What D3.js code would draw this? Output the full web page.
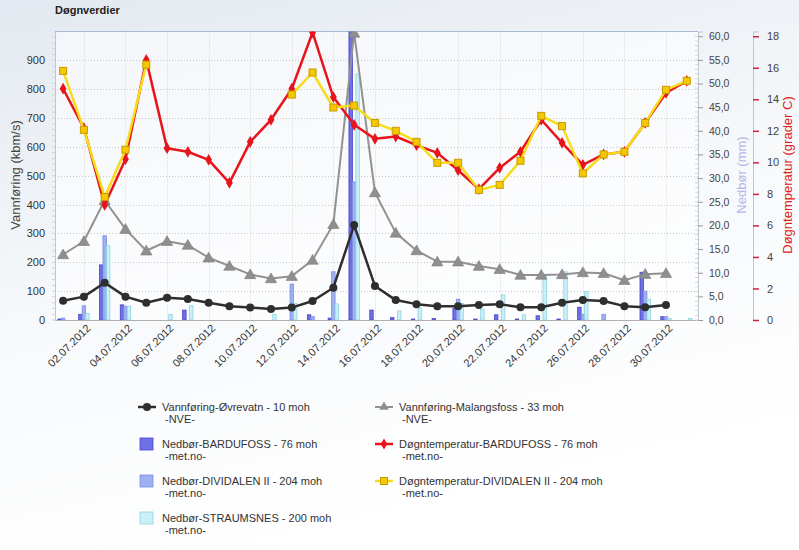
<!DOCTYPE html>
<html>
<head>
<meta charset="utf-8">
<script src="https://cdn.jsdelivr.net/npm/d3@7/dist/d3.min.js"></script>
<style>
html,body{margin:0;padding:0;background:#fff;}
svg{display:block;font-family:"Liberation Sans",Arial,sans-serif;}
</style>
</head>
<body>
<svg id="chart" width="799" height="550"></svg>
<script>
// ---- data ----
const dates = ["01.07.2012","02.07.2012","03.07.2012","04.07.2012","05.07.2012","06.07.2012","07.07.2012","08.07.2012","09.07.2012","10.07.2012","11.07.2012","12.07.2012","13.07.2012","14.07.2012","15.07.2012","16.07.2012","17.07.2012","18.07.2012","19.07.2012","20.07.2012","21.07.2012","22.07.2012","23.07.2012","24.07.2012","25.07.2012","26.07.2012","27.07.2012","28.07.2012","29.07.2012","30.07.2012","31.07.2012"];
const vannOvrevatn = [67,81,129,81,60,77,73,60,48,43,38,43,66,112,329,118,69,55,48,48,52,55,44,44,60,69,66,48,44,52,null];
const vannMalangsfoss = [227,273,415,315,240,273,260,216,187,158,144,152,208,332,995,442,302,241,202,202,187,176,156,156,158,165,162,138,159,162,null];
const nedborBardufoss = [0.2,1.2,11.65,3.2,0,0,2.1,0,0,0,0,0,1.1,0.4,62,2.1,0.5,0.2,0.3,2.5,0.2,1.1,0.2,0.9,0.2,2.7,0,0,10.1,0.7,0];
const nedborDividalen = [0.4,3.0,17.8,2.9,0,0,0,0,0,0,0,7.6,0.7,10.2,29.2,0,0,0,0,4.4,0,0,0,0,0,1.2,1.2,0,6.1,0.7,0];
const nedborStraumsnes = [0,1.4,15.7,2.9,0,1.2,3.0,0,0,0,1.2,3.5,0,3.4,52,0,1.9,2.5,0,3.5,2.3,5.3,1.1,9.5,10.2,6.0,0,0,4.4,0.3,0.3];
const tempBardufoss = [14.67,12.17,7.3,10.2,16.5,10.9,10.67,10.16,8.7,11.3,12.7,14.67,18.24,14.14,12.38,11.49,11.64,11.09,10.6,9.5,8.3,9.65,10.67,12.7,11.24,9.84,10.5,10.67,12.5,14.4,15.17];
const tempDividalen = [15.8,12.06,7.8,10.8,16.2,null,null,null,null,null,null,14.3,15.7,13.48,13.6,12.5,12.0,11.3,9.97,9.97,8.25,8.57,10.1,12.95,12.3,9.3,10.5,10.67,12.5,14.6,15.17];
const leftTicks = [0,100,200,300,400,500,600,700,800,900];
const rainTicks = [0,5,10,15,20,25,30,35,40,45,50,55,60];
const tempTicks = [0,2,4,6,8,10,12,14,16,18];

// ---- layout ----
const svg = d3.select("#chart");
const L = 55, R = 698, T = 31.5, B = 320;
const defs = svg.append("defs");
const bg = defs.append("linearGradient").attr("id","bg").attr("x1","0").attr("y1","0").attr("x2","0.35").attr("y2","1");
bg.append("stop").attr("offset","0").attr("stop-color","#e3e9f0");
bg.append("stop").attr("offset","0.55").attr("stop-color","#f7f9fb");
bg.append("stop").attr("offset","1").attr("stop-color","#ffffff");
svg.append("rect").attr("width",799).attr("height",550).attr("fill","url(#bg)");
defs.append("clipPath").attr("id","clip").append("rect").attr("x",L).attr("y",T).attr("width",R-L).attr("height",B-T);
svg.append("rect").attr("x",L).attr("y",T).attr("width",R-L).attr("height",B-T).attr("fill","#fff").attr("opacity",0.55);

const dayIdx = dates.map((d,i)=>i+1);
const x = d3.scaleLinear().domain([0.61,31.54]).range([L,R]);
const yL = d3.scaleLinear().domain([0,1000]).range([B,T]);
const yRain = d3.scaleLinear().domain([0,61]).range([B,T]);
const yTemp = d3.scaleLinear().domain([0,18.3]).range([B,T]);

// title
svg.append("text").attr("x",55).attr("y",14).attr("font-size",11).attr("font-weight","bold").attr("fill","#222").text("Døgnverdier");

// grid
const grid = svg.append("g");
grid.selectAll("line.h").data(leftTicks.filter(d=>d>0)).join("line")
  .attr("x1",L).attr("x2",R).attr("y1",d=>Math.round(yL(d))+0.5).attr("y2",d=>Math.round(yL(d))+0.5)
  .attr("stroke","#c8c8c8").attr("stroke-dasharray","1,2");
const labelDays = dayIdx.filter(d=>d%2===0 && d<=30);
grid.selectAll("line.v").data(labelDays).join("line")
  .attr("x1",d=>Math.round(x(d))+0.5).attr("x2",d=>Math.round(x(d))+0.5).attr("y1",T).attr("y2",B)
  .attr("stroke","#d0d0d0").attr("stroke-dasharray","1,2");
svg.append("line").attr("x1",L).attr("x2",R).attr("y1",T).attr("y2",T).attr("stroke","#a9b9d3");

// axes
const axL = svg.append("g").attr("transform",`translate(${L},0)`)
  .call(d3.axisLeft(yL).tickValues(leftTicks).tickSize(0).tickPadding(10).tickFormat(d3.format("d")));
axL.select(".domain").attr("stroke","#c0c6ce");
axL.selectAll("text").attr("font-size",11).attr("fill","#333").attr("font-family","Liberation Sans, Arial");
svg.append("g").selectAll("line").data(d3.range(0,1000,20)).join("line")
  .attr("x1",L-3).attr("x2",L).attr("y1",d=>yL(d)).attr("y2",d=>yL(d)).attr("stroke","#d0d4d8");

const axB = svg.append("g").attr("transform",`translate(0,${B})`)
  .call(d3.axisBottom(x).tickValues(labelDays).tickSize(0).tickFormat(d=>dates[d-1]));
axB.select(".domain").attr("stroke","#b0b0b0");
axB.selectAll("text").attr("font-size",11).attr("fill","#333").attr("font-family","Liberation Sans, Arial")
  .attr("text-anchor","end").attr("transform","translate(2,4) rotate(-45)").attr("dy","0.35em").attr("dx","0");

const axR = svg.append("g").attr("transform",`translate(${R},0)`)
  .call(d3.axisRight(yRain).tickValues(rainTicks).tickSize(5).tickPadding(6).tickFormat(d=>d3.format(".1f")(d).replace(".",",")));
axR.select(".domain").attr("stroke","#c0c6ce");
axR.selectAll(".tick line").attr("stroke","#999");
axR.selectAll("text").attr("font-size",10.5).attr("fill","#444").attr("font-family","Liberation Sans, Arial");
svg.append("g").selectAll("line").data(d3.range(0,61,1)).join("line")
  .attr("x1",R-3).attr("x2",R).attr("y1",d=>yRain(d)).attr("y2",d=>yRain(d)).attr("stroke","#d4d8dc");

const TX = 753;
const axT = svg.append("g").attr("transform",`translate(${TX},0)`)
  .call(d3.axisRight(yTemp).tickValues(tempTicks).tickSize(6).tickPadding(8));
axT.select(".domain").attr("stroke","#c0c6ce");
axT.selectAll(".tick line").attr("stroke","#d0203a").attr("stroke-width",1.5);
axT.selectAll("text").attr("font-size",11).attr("fill","#444").attr("font-family","Liberation Sans, Arial");

// axis titles
svg.append("text").attr("transform","translate(20,175) rotate(-90)").attr("text-anchor","middle")
  .attr("font-size",13).attr("fill","#444").text("Vannføring (kbm/s)");
svg.append("text").attr("transform","translate(746,175) rotate(-90)").attr("text-anchor","middle")
  .attr("font-size",13).attr("fill","#b4b8ea").text("Nedbør (mm)");
svg.append("text").attr("transform","translate(792,175) rotate(-90)").attr("text-anchor","middle")
  .attr("font-size",13).attr("fill","#e02020").text("Døgntemperatur (grader C)");

// ---- bars ----
const plot = svg.append("g").attr("clip-path","url(#clip)");
const barSeries = [
  {vals:nedborBardufoss, fill:"#6f6fe6", stroke:"#4646c8"},
  {vals:nedborDividalen, fill:"#9fb0f2", stroke:"#7a8ee0"},
  {vals:nedborStraumsnes, fill:"#c9f0f7", stroke:"#8fd3e2"}
];
const sub = d3.scaleBand().domain([0,1,2]).range([-5.2,5.2]).padding(0);
barSeries.forEach((s,k)=>{
  plot.append("g").selectAll("rect").data(s.vals.map((v,i)=>({d:i+1,v})).filter(o=>o.v>0)).join("rect")
    .attr("x",o=>x(o.d)+sub(k)).attr("width",sub.bandwidth())
    .attr("y",o=>yRain(o.v)).attr("height",o=>B-yRain(o.v))
    .attr("fill",s.fill).attr("stroke",s.stroke).attr("stroke-width",0.8);
});

// ---- lines ----
function drawLine(vals, yS, color, width){
  const line = d3.line().defined(v=>v!=null).x((v,i)=>x(i+1)).y(v=>yS(v));
  plot.append("path").datum(vals).attr("d",line).attr("fill","none").attr("stroke",color)
    .attr("stroke-width",width).attr("stroke-linejoin","round");
}
const pts = vals => vals.map((v,i)=>({d:i+1,v})).filter(o=>o.v!=null);

drawLine(vannMalangsfoss, yL, "#929292", 2);
plot.append("g").selectAll("path").data(pts(vannMalangsfoss)).join("path")
  .attr("d",d3.symbol(d3.symbolTriangle,55)).attr("transform",o=>`translate(${x(o.d)},${yL(o.v)+1})`)
  .attr("fill","#8f8f8f").attr("stroke","#7a7a7a").attr("stroke-width",0.6);

drawLine(vannOvrevatn, yL, "#2e2e2e", 2.5);
plot.append("g").selectAll("circle").data(pts(vannOvrevatn)).join("circle")
  .attr("cx",o=>x(o.d)).attr("cy",o=>yL(o.v)).attr("r",4).attr("fill","#2e2e2e");

drawLine(tempBardufoss, yTemp, "#e8141b", 2.5);
plot.append("g").selectAll("path").data(pts(tempBardufoss)).join("path")
  .attr("d",d3.symbol(d3.symbolDiamond,40)).attr("transform",o=>`translate(${x(o.d)},${yTemp(o.v)})`)
  .attr("fill","#e8141b");

drawLine(tempDividalen, yTemp, "#f7dc1a", 2.5);
plot.append("g").selectAll("rect").data(pts(tempDividalen)).join("rect")
  .attr("x",o=>x(o.d)-3.5).attr("y",o=>yTemp(o.v)-3.5).attr("width",7).attr("height",7)
  .attr("fill","#f6c800").attr("stroke","#c89a00").attr("stroke-width",1);

// ---- legend ----
const lg = svg.append("g").attr("font-size",11).attr("fill","#333");
const legendItems = [
  {col:0,row:0,type:"circle",color:"#2e2e2e",t1:"Vannføring-Øvrevatn - 10 moh",t2:"-NVE-"},
  {col:1,row:0,type:"triangle",color:"#929292",t1:"Vannføring-Malangsfoss - 33 moh",t2:"-NVE-"},
  {col:0,row:1,type:"bar",color:"#6f6fe6",stroke:"#4646c8",t1:"Nedbør-BARDUFOSS - 76 moh",t2:"-met.no-"},
  {col:1,row:1,type:"diamond",color:"#e8141b",t1:"Døgntemperatur-BARDUFOSS - 76 moh",t2:"-met.no-"},
  {col:0,row:2,type:"bar",color:"#9fb0f2",stroke:"#7a8ee0",t1:"Nedbør-DIVIDALEN II - 204 moh",t2:"-met.no-"},
  {col:1,row:2,type:"square",color:"#f7dc1a",t1:"Døgntemperatur-DIVIDALEN II - 204 moh",t2:"-met.no-"},
  {col:0,row:3,type:"bar",color:"#c9f0f7",stroke:"#8fd3e2",t1:"Nedbør-STRAUMSNES - 200 moh",t2:"-met.no-"}
];
const colX = [147, 384], rowY = [407, 444, 481, 518];
legendItems.forEach(it=>{
  const cx = colX[it.col], cy = rowY[it.row];
  const g = lg.append("g");
  if(it.type==="bar"){
    g.append("rect").attr("x",cx-7).attr("y",cy-6).attr("width",13).attr("height",12)
      .attr("fill",it.color).attr("stroke",it.stroke).attr("stroke-width",0.8);
  } else {
    g.append("line").attr("x1",cx-9).attr("x2",cx+9).attr("y1",cy).attr("y2",cy)
      .attr("stroke",it.color).attr("stroke-width",it.type==="triangle"?2:2.5);
    if(it.type==="circle") g.append("circle").attr("cx",cx).attr("cy",cy).attr("r",4).attr("fill",it.color);
    if(it.type==="triangle") g.append("path").attr("d",d3.symbol(d3.symbolTriangle,40)).attr("transform",`translate(${cx},${cy})`).attr("fill","#8f8f8f");
    if(it.type==="diamond") g.append("path").attr("d",d3.symbol(d3.symbolDiamond,36)).attr("transform",`translate(${cx},${cy})`).attr("fill",it.color);
    if(it.type==="square") g.append("rect").attr("x",cx-3.5).attr("y",cy-3.5).attr("width",7).attr("height",7).attr("fill","#f6c800").attr("stroke","#c89a00");
  }
  g.append("text").attr("x",cx+15).attr("y",cy).attr("dy","0.35em").text(it.t1);
  g.append("text").attr("x",cx+18).attr("y",cy+12.5).attr("dy","0.35em").text(it.t2);
});
</script>
</body>
</html>
